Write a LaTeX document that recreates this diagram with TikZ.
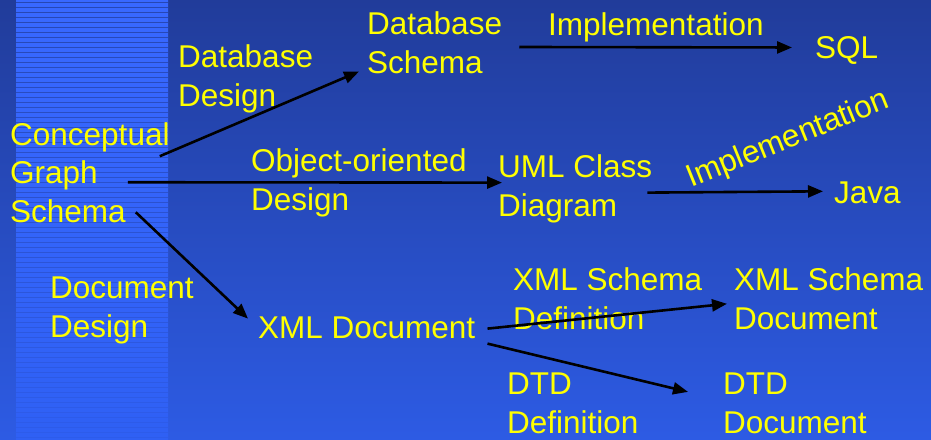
\documentclass[tikz,border=0pt]{standalone}
\usepackage{fontspec}
\setmainfont{Liberation Sans}
\usepackage{tikz}
\usetikzlibrary{positioning,calc,arrows.meta}

\definecolor{bgtop}{HTML}{213C9A}
\definecolor{bgbot}{HTML}{2D5BE4}
\definecolor{bandtop}{HTML}{3868FF}
\definecolor{bandbot}{HTML}{2F60F4}
\definecolor{txt}{HTML}{FFFF00}

\begin{document}
\begin{tikzpicture}[x=1pt, y=-1pt,
    word/.style={text=txt, align=left, inner sep=0pt, anchor=base west,
                 font=\fontsize{31.5}{38.5}\selectfont},
    flow/.style={draw=black, line width=2.6pt, -{Triangle[length=15pt,width=12pt]}}]
    \useasboundingbox (0,0) rectangle (931,439);

    % Background and striped band
    \shade[top color=bgtop, bottom color=bgbot] (0,0) rectangle (931,439);
    \shade[top color=bandtop, bottom color=bandbot] (16,0) rectangle (168,439);
    \foreach \i in {0,...,87} {
        \pgfmathsetmacro\op{0.75*(1-\i/100)}
        \draw[bgtop, opacity=\op, line width=1pt] (16,{2+5*\i}) -- (168,{2+5*\i});
    }

    % Source (nodes sit on the baseline of their last line)
    \node[word] (cgs) at (10,222) {Conceptual\\Graph\\Schema};

    % Targets
    \node[word] (dbs) at (367,73) {Database\\Schema};
    \node[word] (sql) at (815,58) {SQL};
    \node[word] (uml) at (498,216) {UML Class\\Diagram};
    \node[word] (java) at (834,203) {Java};
    \node[word] (xmld) at (258,338) {XML Document};
    \node[word] (xsdoc) at (734,329) {XML Schema\\Document};
    \node[word] (dtddoc) at (723,433) {DTD\\Document};

    % Edge labels
    \node[word] (dbdesign) at (178,106) {Database\\Design};
    \node[word] (impl1) at (548,35) {Implementation};
    \node[word] (oodesign) at (251,210) {Object-oriented\\Design};
    \node[word, rotate=22] (impl2) at (691,188) {Implementation};
    \node[word] (docdesign) at (50,337) {Document\\Design};
    \node[word] (xsdef) at (513,329) {XML Schema\\Definition};
    \node[word] (dtddef) at (507,433) {DTD\\Definition};

    % Arrows
    \draw[flow] ([xshift=-10pt,yshift=16pt]cgs.east) -- ([xshift=-8pt,yshift=2pt]dbs.south west);
    \draw[flow] ([xshift=17pt,yshift=-4.5pt]dbs.east) -- ([xshift=-23pt,yshift=2.5pt]sql.west);
    \draw[flow] ([xshift=-42pt,yshift=-10pt]cgs.east) -- ([xshift=4pt,yshift=6pt]uml.west);
    \draw[flow] ([xshift=-5pt,yshift=-4pt]uml.east) -- ([xshift=-11pt,yshift=1pt]java.west);
    \draw[flow] ([xshift=-34pt,yshift=-40pt]cgs.east) -- ([xshift=-10pt,yshift=8.7pt]xmld.west);
    \draw[flow] ([xshift=12pt,yshift=-1.3pt]xmld.east) -- ([xshift=-7pt,yshift=-5.3pt]xsdoc.west);
    \draw[flow] ([xshift=12pt,yshift=-16.3pt]xmld.east) -- ([xshift=-35pt,yshift=11.2pt]dtddoc.west);
\end{tikzpicture}
\end{document}
